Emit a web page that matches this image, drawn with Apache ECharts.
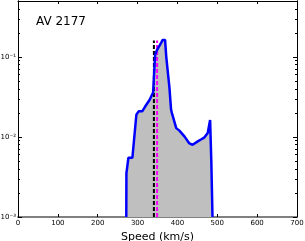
<!DOCTYPE html>
<html>
<head>
<meta charset="utf-8">
<script src="https://cdn.jsdelivr.net/npm/echarts@6/dist/echarts.min.js"></script>
<style>html,body{margin:0;padding:0;background:#fff}#c{width:305px;height:241px}</style>
</head>
<body>
<div id="c"></div>
<script>
// Data
var speeds = [271.7, 272, 277, 287, 297, 303, 312, 319, 330, 339, 344, 348, 359, 363, 369, 372, 380, 384, 386, 397, 405, 418, 430, 438, 451, 459, 467, 476, 482, 485, 488];
var fractions = [0.001, 0.0035, 0.0055, 0.0055, 0.019, 0.021, 0.021, 0.024, 0.029, 0.036, 0.106, 0.12, 0.15, 0.163, 0.163, 0.1, 0.041, 0.022, 0.020, 0.0129, 0.012, 0.0101, 0.0083, 0.008, 0.0088, 0.0093, 0.0098, 0.0112, 0.0163, 0.005, 0.001];
var blackLineSpeed = 341;
var magentaLineSpeed = 349;
var markerTop = 0.16;
var xTicks = [0, 100, 200, 300, 400, 500, 600, 700];
var yMajorTicks = [0.001, 0.01, 0.1];
var yMajorLabels = ['10\u207B\u00B3', '10\u207B\u00B2', '10\u207B\u00B9'];
var yMinorTicks = [0.002,0.003,0.004,0.005,0.006,0.007,0.008,0.009,0.02,0.03,0.04,0.05,0.06,0.07,0.08,0.09,0.2,0.3,0.4];
var titleText = 'AV 2177';
var xTitle = 'Speed (km/s)';

var curve = speeds.map(function (s, i) { return [s, fractions[i]]; });
var yMin = 0.001, yMax = 0.5;

function yAxisDef(pos, ticks, len, labels) {
  return {
    type: 'log', logBase: 10, min: yMin, max: yMax, position: pos,
    axisLine: { show: true, onZero: false, lineStyle: { color: '#000', width: 1 } },
    axisTick: { show: true, inside: true, length: len, customValues: ticks, lineStyle: { color: '#000', width: 1 } },
    axisLabel: labels ? {
      show: true, customValues: yMajorTicks, fontSize: 7, color: '#000', margin: 2, fontFamily: 'DejaVu Sans',
      formatter: function (v) {
        for (var i = 0; i < yMajorTicks.length; i++) {
          if (Math.abs(Math.log10(v) - Math.log10(yMajorTicks[i])) < 1e-6) return yMajorLabels[i];
        }
        return '';
      }
    } : { show: false },
    splitLine: { show: false }
  };
}

var chart = echarts.init(document.getElementById('c'), null, { renderer: 'canvas' });
chart.setOption({
  animation: false,
  backgroundColor: '#fff',
  title: { text: titleText, left: 31, top: 11, textStyle: { fontSize: 12, fontWeight: 'normal', color: '#000', fontFamily: 'DejaVu Sans' } },
  grid: { left: 18, right: 8, top: 1, bottom: 24, containLabel: false, outerBoundsMode: 'none' },
  xAxis: [
    {
      type: 'value', min: 0, max: 700, interval: 100, position: 'bottom',
      name: xTitle, nameLocation: 'middle', nameGap: 11,
      nameTextStyle: { fontSize: 11, color: '#000', fontFamily: 'DejaVu Sans', verticalAlign: 'top' },
      axisLine: { show: true, onZero: false, lineStyle: { color: '#808080', width: 2 } },
      axisTick: { show: true, inside: true, length: 3, customValues: xTicks, lineStyle: { color: '#000' } },
      axisLabel: { show: true, customValues: xTicks, fontSize: 7, color: '#000', margin: 3, fontFamily: 'DejaVu Sans' },
      splitLine: { show: false }
    },
    {
      type: 'value', min: 0, max: 700, interval: 100, position: 'top',
      axisLine: { show: true, onZero: false, lineStyle: { color: '#000', width: 1 } },
      axisTick: { show: true, inside: true, length: 3, customValues: xTicks, lineStyle: { color: '#000' } },
      axisLabel: { show: false },
      splitLine: { show: false }
    }
  ],
  yAxis: [
    yAxisDef('left', yMajorTicks, 4, true),
    yAxisDef('left', yMinorTicks, 2, false),
    yAxisDef('right', yMajorTicks, 4, false),
    yAxisDef('right', yMinorTicks, 2, false)
  ],
  series: [
    {
      type: 'line', xAxisIndex: 0, yAxisIndex: 0, data: curve, showSymbol: false, symbol: 'none',
      lineStyle: { color: '#bfbfbf', width: 0 },
      areaStyle: { color: '#bfbfbf', opacity: 1, origin: 'start' },
      z: 1
    },
    {
      type: 'line', xAxisIndex: 0, yAxisIndex: 0,
      data: [[blackLineSpeed, yMin], [blackLineSpeed, markerTop]], showSymbol: false, symbol: 'none',
      lineStyle: { color: '#000', width: 2, type: [4, 2] }, z: 2
    },
    {
      type: 'line', xAxisIndex: 0, yAxisIndex: 0,
      data: [[magentaLineSpeed, yMin], [magentaLineSpeed, markerTop]], showSymbol: false, symbol: 'none',
      lineStyle: { color: '#ff00ff', width: 2, type: [4, 2] }, z: 2
    },
    {
      type: 'line', xAxisIndex: 0, yAxisIndex: 0, data: curve, showSymbol: false, symbol: 'none',
      lineStyle: { color: '#0000ff', width: 2.5 }, z: 3
    }
  ]
});
</script>
</body>
</html>
